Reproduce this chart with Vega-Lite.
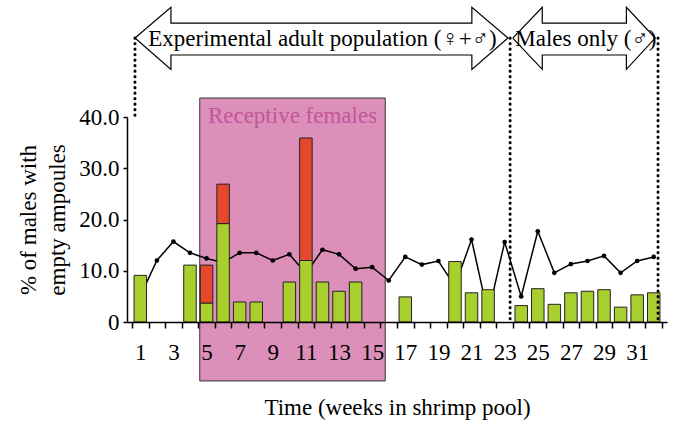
{
 "$schema": "https://vega.github.io/schema/vega-lite/v6.json",
 "width": 540,
 "height": 205,
 "autosize": "none",
 "padding": {"left": 127, "top": 117, "right": 9, "bottom": 101},
 "background": "white",
 "config": {"view": {"stroke": null}, "font": "Liberation Serif",
  "axis": {"labelOverlap": false, "labelFlush": false, "labelBound": false, "grid": false}},
 "resolve": {"axis": {"x": "independent"}},
 "datasets": {
  "recept": [{"x0": 4.59, "x1": 15.79, "y0": -11.5, "y1": 43.7}],
  "line": [
   {"week": 1, "val": 5.0}, {"week": 2, "val": 12.0}, {"week": 3, "val": 15.7}, {"week": 4, "val": 13.5},
   {"week": 5, "val": 12.4}, {"week": 6, "val": 11.6}, {"week": 7, "val": 13.5}, {"week": 8, "val": 13.5},
   {"week": 9, "val": 12.0}, {"week": 10, "val": 13.2}, {"week": 11, "val": 9.5}, {"week": 12, "val": 14.1},
   {"week": 13, "val": 13.2}, {"week": 14, "val": 10.4}, {"week": 15, "val": 10.7}, {"week": 16, "val": 8.1},
   {"week": 17, "val": 12.7}, {"week": 18, "val": 11.2}, {"week": 19, "val": 11.9}, {"week": 20, "val": 7.0},
   {"week": 21, "val": 16.1}, {"week": 22, "val": 1.5}, {"week": 23, "val": 15.6}, {"week": 24, "val": 5.0},
   {"week": 25, "val": 17.7}, {"week": 26, "val": 9.6}, {"week": 27, "val": 11.3}, {"week": 28, "val": 11.9},
   {"week": 29, "val": 12.9}, {"week": 30, "val": 9.6}, {"week": 31, "val": 11.9}, {"week": 32, "val": 12.7}
  ],
  "bars": [
   {"week": 1, "seg": "a", "val": 9.1}, {"week": 4, "seg": "a", "val": 11.1},
   {"week": 5, "seg": "a", "val": 3.7}, {"week": 5, "seg": "b", "val": 7.4},
   {"week": 6, "seg": "a", "val": 19.2}, {"week": 6, "seg": "b", "val": 7.7},
   {"week": 7, "seg": "a", "val": 3.9}, {"week": 8, "seg": "a", "val": 3.9},
   {"week": 10, "seg": "a", "val": 7.8},
   {"week": 11, "seg": "a", "val": 12.0}, {"week": 11, "seg": "b", "val": 23.9},
   {"week": 12, "seg": "a", "val": 7.8}, {"week": 13, "seg": "a", "val": 6.0}, {"week": 14, "seg": "a", "val": 7.8},
   {"week": 17, "seg": "a", "val": 4.9}, {"week": 20, "seg": "a", "val": 11.8}, {"week": 21, "seg": "a", "val": 5.7},
   {"week": 22, "seg": "a", "val": 6.3}, {"week": 24, "seg": "a", "val": 3.2}, {"week": 25, "seg": "a", "val": 6.5},
   {"week": 26, "seg": "a", "val": 3.45}, {"week": 27, "seg": "a", "val": 5.7}, {"week": 28, "seg": "a", "val": 6.0},
   {"week": 29, "seg": "a", "val": 6.3}, {"week": 30, "seg": "a", "val": 2.9}, {"week": 31, "seg": "a", "val": 5.3},
   {"week": 32, "seg": "a", "val": 5.7}
  ],
  "dots": [
   {"x": 0.68, "y1": 55.4, "y2": 40},
   {"x": 23.33, "y1": 55.4, "y2": 0},
   {"x": 32.26, "y1": 55.4, "y2": 0}
  ],
  "arrows": [
   {"id": 1, "ord": 1, "x": 0.68, "y": 55.4}, {"id": 1, "ord": 2, "x": 2.85, "y": 61.4},
   {"id": 1, "ord": 3, "x": 2.85, "y": 58.3}, {"id": 1, "ord": 4, "x": 21.02, "y": 58.3},
   {"id": 1, "ord": 5, "x": 21.02, "y": 61.4}, {"id": 1, "ord": 6, "x": 23.2, "y": 55.4},
   {"id": 1, "ord": 7, "x": 21.02, "y": 49.3}, {"id": 1, "ord": 8, "x": 21.02, "y": 52.1},
   {"id": 1, "ord": 9, "x": 2.85, "y": 52.1}, {"id": 1, "ord": 10, "x": 2.85, "y": 49.3},
   {"id": 1, "ord": 11, "x": 0.68, "y": 55.4},
   {"id": 2, "ord": 1, "x": 23.49, "y": 55.4}, {"id": 2, "ord": 2, "x": 25.27, "y": 61.4},
   {"id": 2, "ord": 3, "x": 25.27, "y": 58.3}, {"id": 2, "ord": 4, "x": 30.35, "y": 58.3},
   {"id": 2, "ord": 5, "x": 30.35, "y": 61.4}, {"id": 2, "ord": 6, "x": 32.09, "y": 55.4},
   {"id": 2, "ord": 7, "x": 30.35, "y": 49.3}, {"id": 2, "ord": 8, "x": 30.35, "y": 52.1},
   {"id": 2, "ord": 9, "x": 25.27, "y": 52.1}, {"id": 2, "ord": 10, "x": 25.27, "y": 49.3},
   {"id": 2, "ord": 11, "x": 23.49, "y": 55.4}
  ],
  "arrowText": [
   {"x": 12.0, "y": 55.3, "t": "Experimental adult population (♀+♂)"},
   {"x": 27.9, "y": 55.3, "t": "Males only (♂)"}
  ],
  "pinkText": [{"x": 10.19, "y": 40.2, "t": "Receptive females"}]
 },
 "layer": [
  {
   "data": {"name": "recept"},
   "mark": {"type": "rect", "fill": "#DC8FB9", "stroke": "#333333", "strokeWidth": 1},
   "encoding": {
    "x": {"field": "x0", "type": "quantitative",
     "scale": {"domain": [0.5, 32.5], "nice": false, "zero": false},
     "axis": {"orient": "bottom", "values": [1,3,5,7,9,11,13,15,17,19,21,23,25,27,29,31],
      "ticks": false, "domain": true,
      "domainColor": "black", "domainWidth": 1.5, "labelFontSize": 23, "labelColor": "black",
      "labelPadding": 19, "labelOverlap": false,
      "title": "Time (weeks in shrimp pool)", "titleFontSize": 23, "titleFontWeight": "normal", "titleColor": "black",
      "titlePadding": 32, "zindex": 1}},
    "x2": {"field": "x1"},
    "y": {"field": "y0", "type": "quantitative",
     "scale": {"domain": [0, 40], "nice": false},
     "axis": {"values": [0, 10, 20, 30, 40],
      "labelExpr": "datum.value == 0 ? '0' : format(datum.value, '.1f')",
      "tickSize": 4, "tickWidth": 1.5, "tickColor": "black", "domainColor": "black", "domainWidth": 1.5,
      "labelFontSize": 23, "labelColor": "black", "labelPadding": 4,
      "title": ["% of males with", "empty ampoules"], "titleFontSize": 23, "titleFontWeight": "normal",
      "titleColor": "black", "titlePadding": 9, "titleLineHeight": 29, "zindex": 1}},
    "y2": {"field": "y1"}
   }
  },
  {
   "data": {"name": "line"},
   "mark": {"type": "line", "color": "black", "strokeWidth": 1.5, "point": {"filled": true, "size": 22, "color": "black"}},
   "encoding": {
    "x": {"field": "week", "type": "quantitative",
     "axis": {"orient": "bottom", "values": [0.5,1.5,2.5,3.5,4.5,5.5,6.5,7.5,8.5,9.5,10.5,11.5,12.5,13.5,14.5,15.5,16.5,17.5,18.5,19.5,20.5,21.5,22.5,23.5,24.5,25.5,26.5,27.5,28.5,29.5,30.5,31.5,32.5],
      "labels": false, "domain": false, "ticks": true, "tickSize": 6, "tickWidth": 1.5, "tickColor": "black",
      "title": null, "zindex": 1}},
    "y": {"field": "val", "type": "quantitative"}
   }
  },
  {
   "data": {"name": "bars"},
   "mark": {"type": "bar", "width": 12.5, "stroke": "#222222", "strokeWidth": 1},
   "encoding": {
    "x": {"field": "week", "type": "quantitative", "axis": null},
    "y": {"field": "val", "type": "quantitative", "stack": "zero"},
    "color": {"field": "seg", "type": "nominal", "scale": {"domain": ["a", "b"], "range": ["#A9CF2E", "#E5482A"]}, "legend": null},
    "order": {"field": "seg"}
   }
  },
  {
   "data": {"name": "dots"},
   "mark": {"type": "rule", "color": "black", "strokeWidth": 3, "strokeDash": [0.1, 5.4], "strokeCap": "round"},
   "encoding": {
    "x": {"field": "x", "type": "quantitative", "axis": null},
    "y": {"field": "y1", "type": "quantitative"},
    "y2": {"field": "y2"}
   }
  },
  {
   "data": {"name": "arrows"},
   "mark": {"type": "line", "color": "black", "strokeWidth": 1.2, "strokeJoin": "miter"},
   "encoding": {
    "x": {"field": "x", "type": "quantitative", "axis": null},
    "y": {"field": "y", "type": "quantitative"},
    "detail": {"field": "id"},
    "order": {"field": "ord"}
   }
  },
  {
   "data": {"name": "arrowText"},
   "mark": {"type": "text", "fontSize": 23, "color": "black", "baseline": "middle", "align": "center"},
   "encoding": {
    "x": {"field": "x", "type": "quantitative", "axis": null},
    "y": {"field": "y", "type": "quantitative"},
    "text": {"field": "t"}
   }
  },
  {
   "data": {"name": "pinkText"},
   "mark": {"type": "text", "fontSize": 23, "color": "#C4559C", "baseline": "middle", "align": "center"},
   "encoding": {
    "x": {"field": "x", "type": "quantitative", "axis": null},
    "y": {"field": "y", "type": "quantitative"},
    "text": {"field": "t"}
   }
  }
 ]
}
